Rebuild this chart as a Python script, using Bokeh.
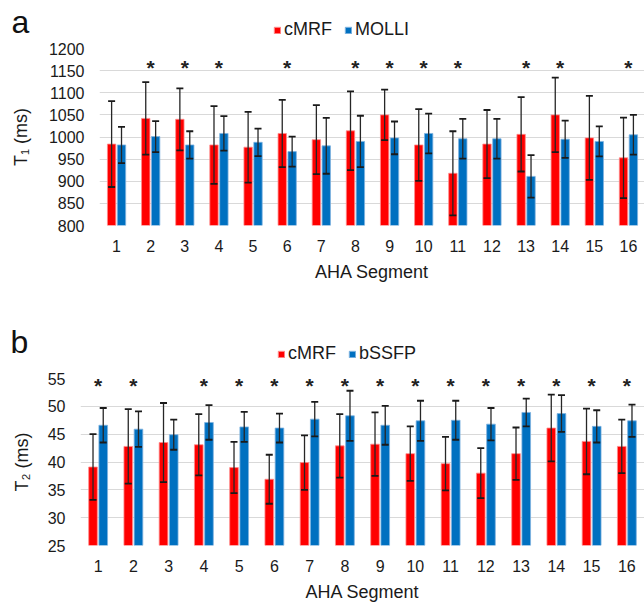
from bokeh.plotting import figure
from bokeh.models import ColumnDataSource, Whisker, TeeHead, Legend, LegendItem, Label, FixedTicker, Range1d
from bokeh.layouts import column
from bokeh.embed import file_html
from bokeh.resources import INLINE
from bokeh.core.properties import value
from bokeh.transform import dodge

segments = list(range(1, 17))
seg_labels = [str(s) for s in segments]

# Panel a: T1 (ms)
t1_cmrf = [984, 1042, 1040, 982, 977, 1008, 994, 1014, 1050, 982, 918, 984, 1006, 1050, 998, 953]
t1_cmrf_sd = [97, 82, 70, 88, 80, 76, 78, 89, 57, 81, 95, 77, 84, 84, 95, 91]
t1_molli = [982, 1001, 982, 1008, 988, 967, 980, 990, 998, 1008, 996, 996, 911, 995, 990, 1005]
t1_molli_sd = [41, 35, 31, 39, 31, 34, 63, 58, 37, 45, 45, 45, 48, 42, 34, 45]
t1_sig = [2, 3, 4, 6, 8, 9, 10, 11, 13, 14, 16]
t1_ticks = [800, 850, 900, 950, 1000, 1050, 1100, 1150, 1200]
t1_star_level = 1158

# Panel b: T2 (ms)
t2_cmrf = [39.1, 42.8, 43.5, 43.1, 39.0, 36.9, 39.9, 42.9, 43.2, 41.5, 39.7, 38.0, 41.5, 46.1, 43.7, 42.8]
t2_cmrf_sd = [5.9, 6.7, 7.1, 5.5, 4.6, 4.4, 4.9, 5.7, 5.7, 4.9, 4.8, 4.5, 4.7, 6.0, 5.9, 4.8]
t2_bssfp = [46.6, 45.9, 44.9, 47.1, 46.3, 46.1, 47.7, 48.3, 46.6, 47.4, 47.5, 46.8, 48.9, 48.7, 46.4, 47.4]
t2_bssfp_sd = [3.1, 3.2, 2.7, 3.1, 2.7, 2.6, 3.1, 4.5, 3.5, 3.6, 3.5, 2.9, 2.5, 3.3, 2.9, 2.9]
t2_sig = [1, 2, 4, 5, 6, 7, 8, 9, 10, 11, 12, 13, 14, 15, 16]
t2_ticks = [25, 30, 35, 40, 45, 50, 55]
t2_star_level = 53.7

RED = "#FF0000"
BLUE = "#0070C0"
RED_EDGE = "#ff8c8c"
BLUE_EDGE = "#7fb3e0"
FONT = "Liberation Sans"
INK = "#1a1a1a"


def header(letter, names, src, height, letter_xy, leg_loc):
    h = figure(width=644, height=height, output_backend="svg", toolbar_location=None,
               x_range=Range1d(0, 644), y_range=Range1d(0, height),
               x_axis_type=None, y_axis_type=None,
               min_border_left=0, min_border_right=0, min_border_top=0, min_border_bottom=0)
    h.frame_align = False
    h.outline_line_color = None
    h.grid.visible = False
    # hidden copies of the two series: only used to give the legend its swatches
    s1 = h.vbar(x="x", top="a", width=1, fill_color=RED, line_color=RED_EDGE,
                source=src, visible=False)
    s2 = h.vbar(x="x", top="b", width=1, fill_color=BLUE, line_color=BLUE_EDGE,
                source=src, visible=False)
    leg = Legend(items=[LegendItem(label=names[0], renderers=[s1]),
                        LegendItem(label=names[1], renderers=[s2])],
                 orientation="horizontal", location=leg_loc,
                 glyph_width=8, glyph_height=8, label_standoff=3, spacing=12,
                 padding=0, margin=0, border_line_color=None, background_fill_alpha=0,
                 inactive_fill_alpha=0,
                 label_text_font=FONT, label_text_font_size="18px",
                 label_text_color=INK, label_height=20)
    h.add_layout(leg)
    h.add_layout(Label(x=letter_xy[0], y=letter_xy[1], x_units="screen", y_units="screen",
                       text=letter, text_font=FONT, text_font_size="32px",
                       text_align="center", text_baseline="alphabetic", text_color="#111111"))
    return h


def panel(ylabel, m1, s1, m2, s2, sig, ticks, star_level,
          height, left, top, bottom, xmax, ylabel_standoff):
    p = figure(width=644, height=height, output_backend="svg", toolbar_location=None,
               x_range=Range1d(0.5, xmax),
               y_range=Range1d(ticks[0], ticks[-1]),
               min_border_left=left, min_border_right=0,
               min_border_top=top, min_border_bottom=bottom)
    p.frame_align = False
    p.outline_line_color = None

    src = ColumnDataSource(dict(
        x=segments, a=m1, b=m2,
        a_lo=[m - s for m, s in zip(m1, s1)], a_hi=[m + s for m, s in zip(m1, s1)],
        b_lo=[m - s for m, s in zip(m2, s2)], b_hi=[m + s for m, s in zip(m2, s2)],
    ))
    w = 0.245
    off = 0.145
    p.vbar(x=dodge("x", -off, range=p.x_range), top="a", bottom=ticks[0], width=w,
           fill_color=RED, line_color=RED_EDGE, line_width=0.8, source=src)
    p.vbar(x=dodge("x", off, range=p.x_range), top="b", bottom=ticks[0], width=w,
           fill_color=BLUE, line_color=BLUE_EDGE, line_width=0.8, source=src)

    for xs, lo, hi in ((-off, "a_lo", "a_hi"), (off, "b_lo", "b_hi")):
        wk = Whisker(source=src, base=dodge("x", xs, range=p.x_range), lower=lo, upper=hi,
                     level="overlay",
                     line_color="#262626", line_width=1.3,
                     upper_head=TeeHead(size=7, line_color="#1a1a1a", line_width=1.8),
                     lower_head=TeeHead(size=7, line_color="#1a1a1a", line_width=1.8))
        p.add_layout(wk)

    ssrc = ColumnDataSource(dict(x=sig))
    p.text(x="x", y=star_level, text=value("*"), source=ssrc, text_align="center",
           text_baseline="middle", text_font=value(FONT), text_font_size="21px",
           text_font_style="bold", text_color="#222222")

    p.xgrid.grid_line_color = None
    p.ygrid.grid_line_color = "#D9D9D9"
    p.ygrid.grid_line_width = 1.2
    p.yaxis.ticker = FixedTicker(ticks=ticks)
    p.xaxis.ticker = FixedTicker(ticks=segments)
    p.xaxis.major_label_overrides = {s: l for s, l in zip(segments, seg_labels)}
    for ax in (p.xaxis[0], p.yaxis[0]):
        ax.axis_line_color = None
        ax.major_tick_line_color = None
        ax.minor_tick_line_color = None
        ax.major_tick_out = 0
        ax.major_tick_in = 0
        ax.major_label_text_font = FONT
        ax.major_label_text_font_size = "16px"
        ax.major_label_text_color = INK
        ax.axis_label_text_font = FONT
        ax.axis_label_text_font_size = "18px"
        ax.axis_label_text_font_style = "normal"
        ax.axis_label_text_color = INK
    p.xaxis.axis_label = "AHA Segment"
    p.yaxis.axis_label = ylabel
    p.xaxis.major_label_standoff = 14
    p.xaxis.axis_label_standoff = 7
    p.yaxis.major_label_standoff = 15
    p.yaxis.axis_label_standoff = ylabel_standoff
    return p, src


p1, src1 = panel("T\u2081 (ms)", t1_cmrf, t1_cmrf_sd, t1_molli, t1_molli_sd,
                 t1_sig, t1_ticks, t1_star_level, height=260, left=99, top=8, bottom=75,
                 xmax=16.47, ylabel_standoff=15)
h1 = header("a", ["cMRF", "MOLLI"], src1, 40, (20, 19), (273, 0))
p2, src2 = panel("T\u2082 (ms)", t2_cmrf, t2_cmrf_sd, t2_bssfp, t2_bssfp_sd,
                 t2_sig, t2_ticks, t2_star_level, height=239, left=80, top=13, bottom=50,
                 xmax=16.5, ylabel_standoff=13)
h2 = header("b", ["cMRF", "bSSFP"], src2, 65, (19, 24), (277, 1))

layout = column(h1, p1, h2, p2, spacing=0)
open("out.html", "w").write(file_html(layout, INLINE))
